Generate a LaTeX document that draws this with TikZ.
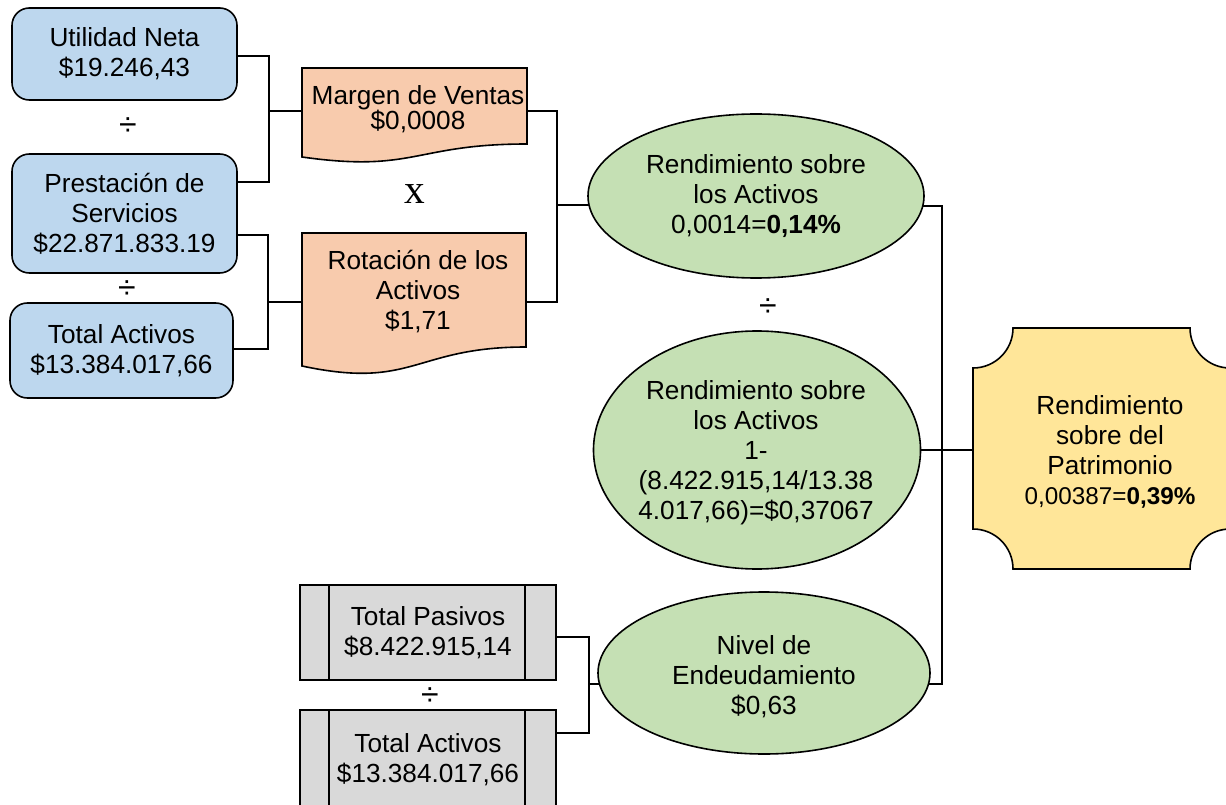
\documentclass[tikz,border=0pt]{standalone}
\usepackage{fontspec}
\setmainfont{Liberation Sans}
\newfontfamily\timesfont{Liberation Serif}
\usetikzlibrary{shapes.geometric,backgrounds}
\definecolor{bluefill}{HTML}{BDD7EE}
\definecolor{orangefill}{HTML}{F8CBAD}
\definecolor{greenfill}{HTML}{C5E0B4}
\definecolor{goldfill}{HTML}{FFE699}
\definecolor{grayfill}{HTML}{D9D9D9}
\begin{document}
\begin{tikzpicture}[x=0.75pt,y=-0.75pt,
  every node/.style={font=\fontsize{19.65}{22.5}\selectfont, align=center, inner sep=0pt},
  outline/.style={draw=black, line width=1.2pt},
  bluebox/.style={outline, fill=bluefill, rounded corners=13pt},
  docshape/.style={outline, fill=orangefill},
  greenell/.style={outline, fill=greenfill, ellipse},
  plaqueshape/.style={outline, fill=goldfill},
  graybox/.style={outline, fill=grayfill, rectangle, minimum width=192pt},
  anchorbox/.style={rectangle, draw=none, fill=none},
  conn/.style={draw=black, line width=1.3pt},
  opsym/.style={font=\fontsize{24}{24}\selectfont},
  timessym/.style={font=\timesfont\fontsize{31}{31}\selectfont}
]
\useasboundingbox (0,0) rectangle (1226,805);
\clip (0,0) rectangle (1226,805);

% ---------- blue boxes ----------
\node[bluebox, minimum width=168.75pt, minimum height=69pt] (util) at (124.5,54) {Utilidad Neta\\\$19.246,43};
\node[bluebox, minimum width=168.75pt, minimum height=89.25pt] (prest) at (124.5,213.5) {Prestación de\\Servicios\\\$22.871.833.19};
\node[bluebox, minimum width=167.25pt, minimum height=71.25pt] (tact1) at (121.5,350.5) {Total Activos\\\$13.384.017,66};
\node[opsym] (div1) at (128,127) {÷};
\node[opsym] (div2) at (127,290) {÷};

% ---------- orange document shapes ----------
\path[docshape] (302,68) -- (527,68) -- (527,144)
  .. controls (414.5,144) and (414.5,173) .. (302,157) -- cycle;
\path[docshape] (302,233) -- (526,233) -- (526,347)
  .. controls (414,347) and (414,390) .. (302,366) -- cycle;
\node[anchorbox, minimum width=168.75pt, minimum height=64.5pt] (margen) at (414.5,111) {};
\node[anchorbox, minimum width=168pt, minimum height=103.5pt] (rot) at (414,302) {};
\node (margenT) at (418,109) {Margen de Ventas\\[-3.75pt]\$0,0008};
\node (rotT) at (418,291.5) {Rotación de los\\Activos\\\$1,71};
\node[timessym] (times) at (415,194) {x};

% ---------- green ellipses ----------
\node[greenell, minimum width=252pt, minimum height=123pt] (e1) at (756,196) {Rendimiento sobre\\los Activos\\0,0014=\textbf{0,14\%}};
\node[opsym] (div3) at (768,308) {÷};
\node[greenell, minimum width=245.25pt, minimum height=178.5pt] (e2) at (757,450) {};
\node (e2T) at (756,453) {Rendimiento sobre\\los Activos\\1-\\(8.422.915,14/13.38\\4.017,66)=\$0,37067};
\node[greenell, minimum width=249pt, minimum height=121.5pt] (e3) at (764,673) {};
\node (e3T) at (764,677) {Nivel de\\Endeudamiento\\\$0,63};

% ---------- gold plaque ----------
\path[plaqueshape] (1013,328) -- (1190,328)
  .. controls (1190,350.1) and (1207.9,368) .. (1230,368) -- (1230,529)
  .. controls (1207.9,529) and (1190,546.9) .. (1190,569) -- (1013,569)
  .. controls (1013,546.9) and (995.1,529) .. (973,529) -- (973,368)
  .. controls (995.1,368) and (1013,350.1) .. (1013,328) -- cycle;
\node[anchorbox, minimum width=192.75pt, minimum height=180.75pt] (gold) at (1101.5,448.5) {};
\node (goldT) at (1110,452) {Rendimiento\\sobre del\\Patrimonio\\{\fontsize{18.2}{22.5}\selectfont 0,00387=\textbf{0,39\%}}};

% ---------- gray boxes ----------
\node[graybox, minimum height=71.25pt] (tpas) at (428,632.5) {Total Pasivos\\\$8.422.915,14};
\draw[outline] ([xshift=22.5pt]tpas.north west) -- ([xshift=22.5pt]tpas.south west);
\draw[outline] ([xshift=-24pt]tpas.north east) -- ([xshift=-24pt]tpas.south east);
\node[graybox, minimum height=75pt] (tact2) at (428,760) {Total Activos\\\$13.384.017,66};
\draw[outline] ([xshift=22.5pt]tact2.north west) -- ([xshift=22.5pt]tact2.south west);
\draw[outline] ([xshift=-24pt]tact2.north east) -- ([xshift=-24pt]tact2.south east);
\node[opsym] (div4) at (430,697) {÷};

% ---------- junction points ----------
\coordinate (j1t) at (269,56);  \coordinate (j1b) at (269,182); \coordinate (j1m) at (269,111);
\coordinate (j2t) at (268,235); \coordinate (j2b) at (268,349); \coordinate (j2m) at (268,302);
\coordinate (j3t) at (557,111); \coordinate (j3b) at (557,302); \coordinate (j3m) at (557,205);
\coordinate (j4t) at (942,206); \coordinate (j4b) at (942,684); \coordinate (j4m) at (942,450);
\coordinate (j5t) at (589,637); \coordinate (j5b) at (589,733); \coordinate (j5m) at (589,684);

% ---------- connectors ----------
\begin{scope}[on background layer]
  \draw[conn] (util.east |- j1t) -- (j1t) -- (j1b) -- (prest.east |- j1b);
  \draw[conn] (j1m) -- (margen.west |- j1m);
  \draw[conn] (prest.east |- j2t) -- (j2t) -- (j2b) -- (tact1.east |- j2b);
  \draw[conn] (j2m) -- (rot.west |- j2m);
  \draw[conn] (margen.east |- j3t) -- (j3t) -- (j3b) -- (rot.east |- j3b);
  \draw[conn] (j3m) -- (e1.center |- j3m);
  \draw[conn] (e1.center |- j4t) -- (j4t) -- (j4b) -- (e3.center |- j4b);
  \draw[conn] (e2.center |- j4m) -- (gold.west |- j4m);
  \draw[conn] (tpas.east |- j5t) -- (j5t) -- (j5b) -- (tact2.east |- j5b);
  \draw[conn] (j5m) -- (e3.center |- j5m);
\end{scope}
\end{tikzpicture}
\end{document}
